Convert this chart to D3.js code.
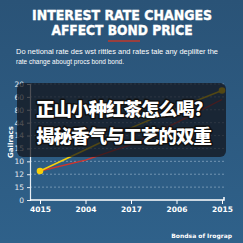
<!DOCTYPE html>
<html>
<head>
<meta charset="utf-8">
<script src="https://cdn.jsdelivr.net/npm/d3@7"></script>
<style>
  html, body { margin: 0; padding: 0; background: #2c5a80; }
  svg { display: block; }
</style>
</head>
<body>
<div id="chart"></div>
<script>
var width = 243;
var height = 243;

var categories = ["4015", "2004", "2017", "2006", "2015"]
var yTickLabels = ["0", "15", "12", "10", "15", "14", "44", "80", "60", "20"]
var yellowValues = [2.25, 3.9, 5.6, 7.1, 8.5]
var redValues = [2.25, 3.1, 4.3, 6.0, 7.8]
var titleLines = ["INTEREST RATE CHANGES", "AFFECT BOND PRICE"]
var subLines = ["Do netional rate des wst rittles and rates tale any deplilter the", "rate change abougt procs bond bond."]
var overlayLines = ["正山小种红茶怎么喝?", "揭秘香气与工艺的双重"]

var svg = d3.select("#chart").append("svg")
    .attr("width", width)
    .attr("height", height)

var defs = svg.append("defs")
var grad = defs.append("linearGradient").attr("id", "bg").attr("x1", 0).attr("y1", 0).attr("x2", 0).attr("y2", 1)
grad.append("stop").attr("offset", "0%").attr("stop-color", "#2a5377")
grad.append("stop").attr("offset", "100%").attr("stop-color", "#2f618a")

svg.append("rect").attr("width", width).attr("height", height).attr("fill", "url(#bg)")

// title
svg.selectAll("text.title").data(titleLines).enter()
    .append("text")
    .attr("class", "title")
    .attr("x", 122)
    .attr("y", function(d, i){ return 20 + i * 15 })
    .attr("text-anchor", "middle")
    .attr("textLength", function(d, i){ return i == 0 ? 180 : 141 })
    .attr("lengthAdjust", "spacingAndGlyphs")
    .style("font-family", "'DejaVu Sans', sans-serif")
    .style("font-weight", "bold")
    .style("font-size", "13.5px")
    .attr("fill", "#ffffff")
    .attr("stroke", "#ffffff")
    .attr("stroke-width", 0.4)
    .text(function(d){ return d })

svg.append("line")
    .attr("x1", 108).attr("x2", 140)
    .attr("y1", 41).attr("y2", 41)
    .attr("stroke", "#c0392b")
    .attr("stroke-width", 1.5)

svg.selectAll("text.sub").data(subLines).enter()
    .append("text")
    .attr("class", "sub")
    .attr("x", 16)
    .attr("y", function(d, i){ return 54 + i * 10 })
    .attr("textLength", function(d, i){ return i == 0 ? 202 : 108 })
    .attr("lengthAdjust", "spacingAndGlyphs")
    .style("font-family", "'Liberation Sans', Arial, sans-serif")
    .style("font-size", "7px")
    .attr("fill", "#ffffff")
    .text(function(d){ return d })

// scales
var x = d3.scalePoint().domain(categories).range([40, 222])
var y = d3.scaleLinear().domain([0, 9]).range([200, 84])

// grid
svg.append("g")
    .selectAll("line").data(d3.range(1, 10)).enter()
    .append("line")
    .attr("x1", 30).attr("x2", 226)
    .attr("y1", function(d){ return y(d) }).attr("y2", function(d){ return y(d) })
    .attr("stroke", "#a9c0d6")
    .attr("stroke-opacity", 0.7)
    .attr("stroke-width", 0.8)
    .attr("stroke-dasharray", "2,2")

var yAxis = svg.append("g")
    .attr("transform", "translate(30,0)")
    .call(d3.axisLeft(y).tickValues(d3.range(0, 10)).tickSize(3)
        .tickFormat(function(d){ return yTickLabels[d] }))
yAxis.select(".domain").attr("stroke", "#e8eef4").attr("stroke-width", 1.2)
yAxis.selectAll(".tick line").attr("stroke", "#e8eef4")
yAxis.selectAll(".tick text")
    .attr("fill", "#e6ebf0")
    .style("font-family", "'DejaVu Sans', sans-serif")
    .style("font-size", "7.5px")

var xAxis = svg.append("g")
    .attr("transform", "translate(0,200)")
    .call(d3.axisBottom(x).tickSize(4).tickPadding(3))
xAxis.select(".domain").attr("d", "M30,0H224V-3").attr("stroke", "#ffffff").attr("stroke-width", 1.5)
xAxis.selectAll(".tick line").attr("stroke", "#ffffff")
xAxis.selectAll(".tick text")
    .attr("fill", "#ffffff")
    .style("font-family", "'DejaVu Sans', sans-serif")
    .style("font-weight", "bold")
    .style("font-size", "7.5px")

svg.append("text")
    .attr("transform", "translate(13,142) rotate(-90)")
    .attr("text-anchor", "middle")
    .style("font-family", "'DejaVu Sans', sans-serif")
    .style("font-weight", "bold")
    .style("font-size", "7px")
    .attr("fill", "#ffffff")
    .text("Gailracs")

// lines
var line = d3.line()
    .x(function(d, i){ return x(categories[i]) })
    .y(function(d){ return y(d) })

svg.append("path").datum(redValues)
    .attr("d", line)
    .attr("fill", "none")
    .attr("stroke", "#d0342c")
    .attr("stroke-width", 1.3)

svg.append("path").datum(yellowValues)
    .attr("d", line)
    .attr("fill", "none")
    .attr("stroke", "#f7cf0a")
    .attr("stroke-width", 1.5)

var ends = [0, yellowValues.length - 1]
svg.selectAll("circle.pt").data(ends).enter()
    .append("circle")
    .attr("class", "pt")
    .attr("cx", function(i){ return x(categories[i]) })
    .attr("cy", function(i){ return y(yellowValues[i]) })
    .attr("r", 3.3)
    .attr("fill", "#f7cf0a")

// footnote
svg.append("text")
    .attr("x", 232)
    .attr("y", 238)
    .attr("text-anchor", "end")
    .style("font-family", "'DejaVu Sans', sans-serif")
    .style("font-weight", "bold")
    .style("font-size", "6px")
    .attr("fill", "#ffffff")
    .text("Bondsa of Irograp")

// overlay caption
svg.append("rect")
    .attr("x", 17).attr("y", 83)
    .attr("width", 209).attr("height", 74)
    .attr("rx", 6)
    .attr("fill", "rgb(18,18,24)")
    .attr("fill-opacity", 0.72)

svg.selectAll("text.cap").data(overlayLines).enter()
    .append("text")
    .attr("class", "cap")
    .attr("x", 36)
    .attr("y", function(d, i){ return 116 + i * 27 })
    .style("font-family", "'Noto Sans CJK SC', sans-serif")
    .style("font-weight", "900")
    .style("font-size", "18.5px")
    .style("letter-spacing", "-1px")
    .style("paint-order", "stroke")
    .attr("stroke", "#111111")
    .attr("stroke-width", 3)
    .attr("stroke-linejoin", "round")
    .attr("fill", "#ffffff")
    .text(function(d){ return d })
</script>
</body>
</html>
